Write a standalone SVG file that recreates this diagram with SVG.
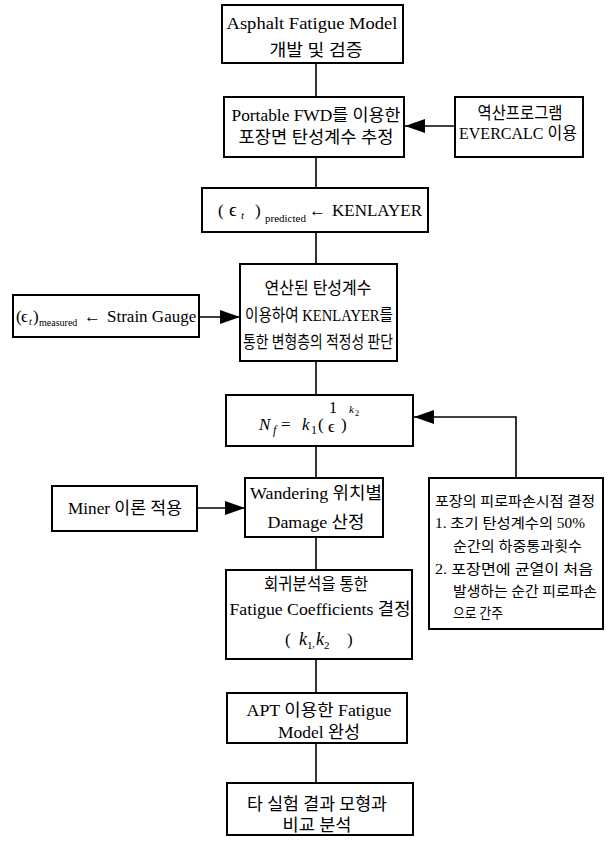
<svg xmlns="http://www.w3.org/2000/svg" width="613" height="844" viewBox="0 0 613 844">
<style>
  .box { fill: #fff; stroke: #000; stroke-width: 2; }
  .t { font-family: "Liberation Serif", "Noto Sans CJK KR", serif; font-size: 17px; fill: #000; }
  .s { font-size: 14px; }
  .m { text-anchor: middle; }
  .i { font-style: italic; }
  .conn { fill: none; stroke: #000; stroke-width: 1.6; }
</style>
<defs>
  <marker id="arr" markerUnits="userSpaceOnUse" markerWidth="20" markerHeight="14" refX="20" refY="7" orient="auto">
    <path d="M0,0 L20,7 L0,14 Z" fill="#000"/>
  </marker>
</defs>
<rect width="613" height="844" fill="#fff"/>

<g id="connectors">
  <line class="conn" x1="316" y1="63" x2="316" y2="97"/>
  <line class="conn" x1="316" y1="157" x2="316" y2="188"/>
  <line class="conn" x1="316" y1="232" x2="316" y2="264"/>
  <line class="conn" x1="316" y1="361" x2="316" y2="395"/>
  <line class="conn" x1="316" y1="446" x2="316" y2="478"/>
  <line class="conn" x1="316" y1="537" x2="316" y2="570"/>
  <line class="conn" x1="316" y1="659" x2="316" y2="693"/>
  <line class="conn" x1="316" y1="743" x2="316" y2="783"/>
  <line class="conn" x1="455" y1="126" x2="405" y2="126" marker-end="url(#arr)"/>
  <line class="conn" x1="199" y1="317" x2="240" y2="317" marker-end="url(#arr)"/>
  <line class="conn" x1="197" y1="508" x2="245" y2="508" marker-end="url(#arr)"/>
  <path class="conn" d="M516,478 V417 H414" marker-end="url(#arr)"/>
</g>

<g id="n1">
  <rect class="box" x="222" y="5" width="181" height="58"/>
  <text class="t m" x="312" y="29" textLength="171" lengthAdjust="spacingAndGlyphs">Asphalt Fatigue Model</text>
  <text class="t m" x="316" y="56" textLength="93" lengthAdjust="spacingAndGlyphs">개발 및 검증</text>
</g>

<g id="n2">
  <rect class="box" x="224" y="97" width="180" height="60"/>
  <text class="t m" x="316" y="121" textLength="169" lengthAdjust="spacingAndGlyphs">Portable FWD를 이용한</text>
  <text class="t m" x="316" y="143" textLength="155" lengthAdjust="spacingAndGlyphs">포장면 탄성계수 추정</text>
</g>

<g id="n_evercalc">
  <rect class="box" x="455" y="97" width="128" height="60"/>
  <text class="t m" x="520" y="119" textLength="85" lengthAdjust="spacingAndGlyphs">역산프로그램</text>
  <text class="t m" x="518" y="139" textLength="118" lengthAdjust="spacingAndGlyphs">EVERCALC 이용</text>
</g>

<g id="n3">
  <rect class="box" x="202" y="188" width="226" height="44"/>
  <text class="t" y="216"><tspan x="218">(</tspan><tspan x="229" font-size="19">ϵ</tspan><tspan x="241" y="219" class="i" font-size="11">t</tspan><tspan x="255" y="216">)</tspan><tspan x="265" y="222" font-size="11">predicted</tspan><tspan x="309" y="216">←</tspan><tspan x="332">KENLAYER</tspan></text>
</g>

<g id="n4">
  <rect class="box" x="240" y="264" width="157" height="97"/>
  <text class="t m" x="318" y="294" textLength="107" lengthAdjust="spacingAndGlyphs">연산된 탄성계수</text>
  <text class="t m" x="319" y="321" textLength="148" lengthAdjust="spacingAndGlyphs">이용하여 KENLAYER를</text>
  <text class="t m" x="318" y="348" textLength="150" lengthAdjust="spacingAndGlyphs">통한 변형층의 적정성 판단</text>
</g>

<g id="n_strain">
  <rect class="box" x="13" y="295" width="186" height="42"/>
  <text class="t" y="322"><tspan x="16">(</tspan><tspan x="21">ϵ</tspan><tspan x="29" y="325" class="i" font-size="10">t</tspan><tspan x="33" y="322">)</tspan><tspan x="39" y="326" font-size="10">measured</tspan><tspan x="84" y="322">←</tspan><tspan x="107">Strain Gauge</tspan></text>
</g>

<g id="n_nf">
  <rect class="box" x="226" y="395" width="187" height="51"/>
  <text class="t" y="430" font-size="20"><tspan x="259" class="i">N</tspan><tspan x="273" y="434" class="i" font-size="12">f</tspan><tspan x="281" y="430">=</tspan><tspan x="302" class="i">k</tspan><tspan x="311" y="434" font-size="12">1</tspan><tspan x="318" y="430">(</tspan><tspan x="329" y="413" font-size="16">1</tspan></text>
  <text class="t" y="432" font-size="16"><tspan x="328">ϵ</tspan></text>
  <text class="t" y="430" font-size="20"><tspan x="341">)</tspan><tspan x="349" y="413" class="i" font-size="11">k</tspan><tspan x="355" y="416" font-size="8">2</tspan></text>
</g>

<g id="n_wandering">
  <rect class="box" x="245" y="478" width="138" height="59"/>
  <text class="t m" x="316" y="499" textLength="132" lengthAdjust="spacingAndGlyphs">Wandering 위치별</text>
  <text class="t m" x="316" y="528" textLength="97" lengthAdjust="spacingAndGlyphs">Damage 산정</text>
</g>

<g id="n_miner">
  <rect class="box" x="52" y="486" width="145" height="45"/>
  <text class="t m" x="125" y="514" textLength="114" lengthAdjust="spacingAndGlyphs">Miner 이론 적용</text>
</g>

<g id="n_failure">
  <rect class="box" x="429" y="478" width="174" height="151"/>
  <text class="t s" x="435" y="506" textLength="160" lengthAdjust="spacingAndGlyphs">포장의 피로파손시점 결정</text>
  <text class="t s" x="435" y="528" textLength="150" lengthAdjust="spacingAndGlyphs">1. 초기 탄성계수의 50%</text>
  <text class="t s" x="453" y="551" textLength="129" lengthAdjust="spacingAndGlyphs">순간의 하중통과횟수</text>
  <text class="t s" x="435" y="574" textLength="158" lengthAdjust="spacingAndGlyphs">2. 포장면에 균열이 처음</text>
  <text class="t s" x="453" y="596" textLength="144" lengthAdjust="spacingAndGlyphs">발생하는 순간 피로파손</text>
  <text class="t s" x="453" y="618" textLength="50" lengthAdjust="spacingAndGlyphs">으로 간주</text>
</g>

<g id="n_regression">
  <rect class="box" x="226" y="570" width="186" height="89"/>
  <text class="t m" x="316" y="590" textLength="104" lengthAdjust="spacingAndGlyphs">회귀분석을 통한</text>
  <text class="t m" x="320" y="615" textLength="181" lengthAdjust="spacingAndGlyphs">Fatigue Coefficients 결정</text>
  <text class="t" y="645"><tspan x="285">(</tspan><tspan x="299" class="i" font-size="18">k</tspan><tspan x="307" y="649" font-size="11">1</tspan><tspan x="312" y="647" font-size="11">,</tspan><tspan x="316" y="645" class="i" font-size="18">k</tspan><tspan x="324" y="649" font-size="11">2</tspan><tspan x="347" y="645">)</tspan></text>
</g>

<g id="n_apt">
  <rect class="box" x="227" y="693" width="180" height="50"/>
  <text class="t m" x="319" y="716" textLength="145" lengthAdjust="spacingAndGlyphs">APT 이용한 Fatigue</text>
  <text class="t m" x="319" y="738" textLength="82" lengthAdjust="spacingAndGlyphs">Model 완성</text>
</g>

<g id="n_last">
  <rect class="box" x="227" y="783" width="186" height="52"/>
  <text class="t m" x="317" y="810" textLength="140" lengthAdjust="spacingAndGlyphs">타 실험 결과 모형과</text>
  <text class="t m" x="317" y="831" textLength="69" lengthAdjust="spacingAndGlyphs">비교 분석</text>
</g>
</svg>
